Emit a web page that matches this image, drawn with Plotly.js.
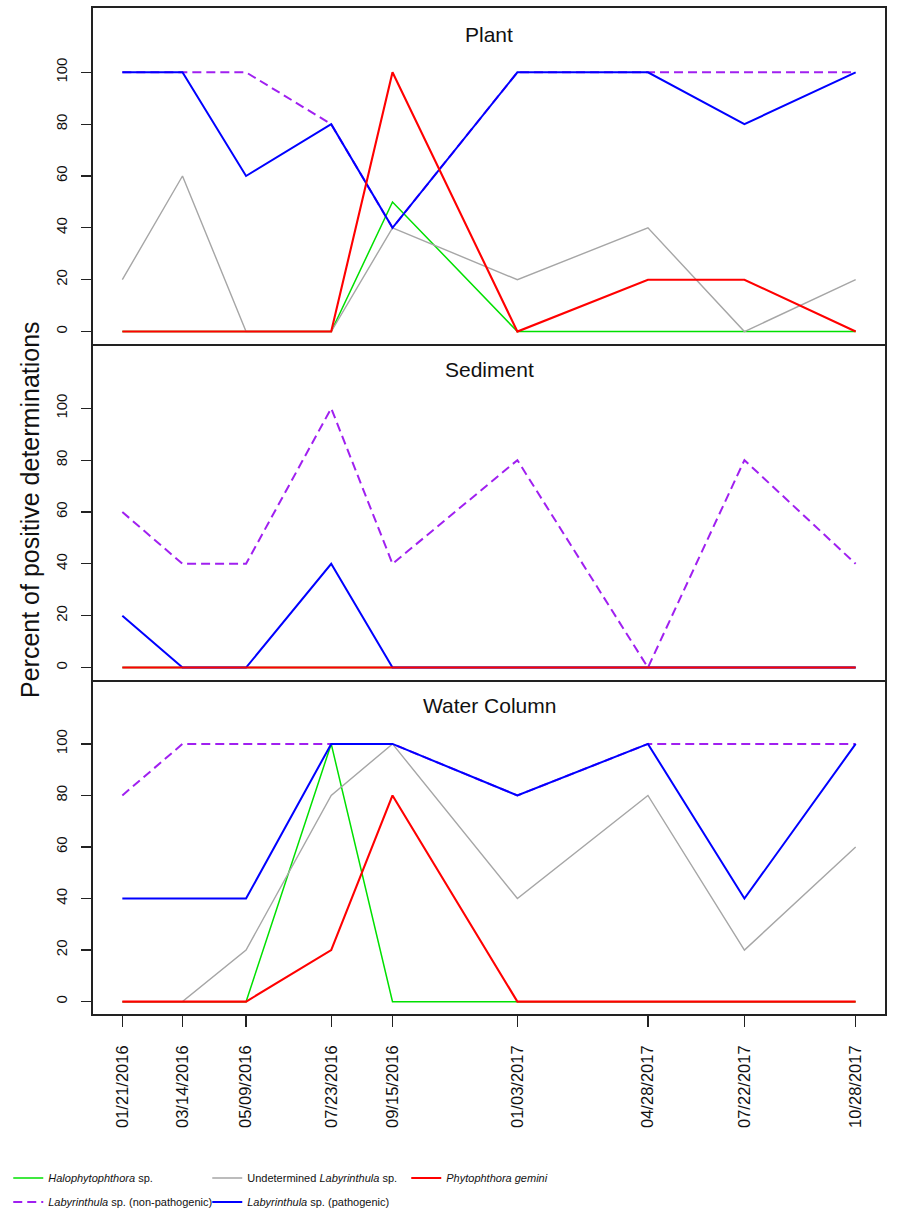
<!DOCTYPE html>
<html>
<head>
<meta charset="utf-8">
<script src="https://cdn.plot.ly/plotly-3.0.1.min.js"></script>
<style>html,body{margin:0;padding:0;background:#fff;}#chart{width:914px;height:1209px;}</style>
</head>
<body>
<div id="chart"></div>
<script>
// Sampling dates and their tick labels
const dates = ['2016-01-21','2016-03-14','2016-05-09','2016-07-23','2016-09-15','2017-01-03','2017-04-28','2017-07-22','2017-10-28'];
const tickLabels = ['01/21/2016','03/14/2016','05/09/2016','07/23/2016','09/15/2016','01/03/2017','04/28/2017','07/22/2017','10/28/2017'];

// Series names
const seriesNames = [
  '<i>Halophytophthora</i> sp.',
  '<i>Labyrinthula</i> sp. (non-pathogenic)',
  'Undetermined <i>Labyrinthula</i> sp.',
  '<i>Labyrinthula</i> sp. (pathogenic)',
  '<i>Phytophthora gemini</i>'
];
const panelTitles = ['Plant', 'Sediment', 'Water Column'];

// Plant
const plantHalo      = [0, 0, 0, 0, 50, 0, 0, 0, 0];
const plantNonPath   = [100, 100, 100, 80, 40, 100, 100, 100, 100];
const plantUndet     = [20, 60, 0, 0, 40, 20, 40, 0, 20];
const plantPath      = [100, 100, 60, 80, 40, 100, 100, 80, 100];
const plantGemini    = [0, 0, 0, 0, 100, 0, 20, 20, 0];

// Sediment
const sedHalo        = [0, 0, 0, 0, 0, 0, 0, 0, 0];
const sedNonPath     = [60, 40, 40, 100, 40, 80, 0, 80, 40];
const sedUndet       = [0, 0, 0, 0, 0, 0, 0, 0, 0];
const sedPath        = [20, 0, 0, 40, 0, 0, 0, 0, 0];
const sedGemini      = [0, 0, 0, 0, 0, 0, 0, 0, 0];

// Water Column
const waterHalo      = [0, 0, 0, 100, 0, 0, 0, 0, 0];
const waterNonPath   = [80, 100, 100, 100, 100, 80, 100, 100, 100];
const waterUndet     = [0, 0, 20, 80, 100, 40, 80, 20, 60];
const waterPath      = [40, 40, 40, 100, 100, 80, 100, 40, 100];
const waterGemini    = [0, 0, 0, 20, 80, 0, 0, 0, 0];

const yTickVals = [0, 20, 40, 60, 80, 100];

// Styles
const styles = [
  {color: '#00e000', width: 1.5, dash: 'solid', legend: 'legend'},
  {color: '#a020f0', width: 2, dash: '9px,5px', legend: 'legend2'},
  {color: '#a6a6a6', width: 1.4, dash: 'solid', legend: 'legend'},
  {color: '#0000ff', width: 2, dash: 'solid', legend: 'legend2'},
  {color: '#ff0000', width: 2.1, dash: 'solid', legend: 'legend'}
];

const panels = [
  {x: 'x3', y: 'y',  data: [plantHalo, plantNonPath, plantUndet, plantPath, plantGemini]},
  {x: 'x2', y: 'y2', data: [sedHalo, sedNonPath, sedUndet, sedPath, sedGemini]},
  {x: 'x',  y: 'y3', data: [waterHalo, waterNonPath, waterUndet, waterPath, waterGemini]}
];

const traces = [];
panels.forEach((p, pi) => {
  p.data.forEach((vals, si) => {
    const s = styles[si];
    traces.push({
      type: 'scatter', mode: 'lines',
      x: dates, y: vals,
      xaxis: p.x, yaxis: p.y,
      name: seriesNames[si],
      legendgroup: 's' + si,
      legend: s.legend,
      showlegend: pi === 0,
      line: {color: s.color, width: s.width, dash: s.dash},
      hoverinfo: 'skip'
    });
  });
});

const FONT = 'Liberation Sans, Arial, sans-serif';
const xRange = ['2015-12-26 04:00', '2017-11-22 20:00'];
const lineCol = '#222';
const LW = 1.8;

function yAxis(domain, anchor) {
  return {
    domain: domain, anchor: anchor,
    range: [-4.8, 124.8],
    tickvals: yTickVals,
    ticktext: yTickVals.map(String),
    ticks: 'outside', ticklen: 10, tickwidth: 1.2, tickcolor: lineCol,
    tickangle: -90,
    ticklabelstandoff: 8,
    tickfont: {family: FONT, size: 15, color: '#111'},
    showline: true, mirror: true, linecolor: lineCol, linewidth: LW,
    showgrid: false, zeroline: false, fixedrange: true
  };
}
function xAxis(anchor, showTicks, mirror) {
  return {
    anchor: anchor, matches: anchor === 'y3' ? undefined : 'x',
    type: 'date', range: xRange,
    tickvals: dates, ticktext: tickLabels,
    ticks: showTicks ? 'outside' : '', ticklen: 11, tickwidth: 1.2, tickcolor: lineCol,
    showticklabels: showTicks,
    tickangle: -90,
    ticklabelstandoff: 12,
    tickfont: {family: FONT, size: 16.5, color: '#111'},
    showline: true, mirror: mirror, linecolor: lineCol, linewidth: LW,
    showgrid: false, zeroline: false, fixedrange: true
  };
}

const H = 1006;
const legendCommon = {
  orientation: 'h', x: -0.107, xanchor: 'left', yanchor: 'middle',
  font: {family: FONT, size: 11, color: '#111'},
  entrywidth: 154, entrywidthmode: 'pixels', itemwidth: 30,
  bgcolor: 'rgba(0,0,0,0)', borderwidth: 0, itemclick: false, itemdoubleclick: false
};
const layout = {
  width: 914, height: 1209,
  margin: {l: 93, r: 29, t: 8, b: 195, autoexpand: false},
  paper_bgcolor: '#fff', plot_bgcolor: '#fff',
  font: {family: FONT, color: '#111'},
  showlegend: true,
  xaxis:  xAxis('y3', true, false),
  xaxis2: xAxis('y2', false, false),
  xaxis3: xAxis('y', false, true),
  yaxis:  yAxis([670 / H, 1], 'x3'),
  yaxis2: yAxis([334 / H, 670 / H], 'x2'),
  yaxis3: yAxis([0, 334 / H], 'x'),
  legend: Object.assign({}, legendCommon, {y: (1014 - 1178) / H}),
  legend2: Object.assign({}, legendCommon, {y: (1014 - 1202) / H}),
  annotations: [
    {text: panelTitles[0], xref: 'paper', yref: 'paper', x: 0.5, y: (1014 - 34) / H, xanchor: 'center', yanchor: 'middle', showarrow: false, font: {family: FONT, size: 21, color: '#111'}},
    {text: panelTitles[1], xref: 'paper', yref: 'paper', x: 0.5, y: (1014 - 369) / H, xanchor: 'center', yanchor: 'middle', showarrow: false, font: {family: FONT, size: 21, color: '#111'}},
    {text: panelTitles[2], xref: 'paper', yref: 'paper', x: 0.5, y: (1014 - 705) / H, xanchor: 'center', yanchor: 'middle', showarrow: false, font: {family: FONT, size: 21, color: '#111'}},
    {text: 'Percent of positive determinations', xref: 'paper', yref: 'paper', x: (30 - 93) / 792, y: (1014 - 510) / H, xanchor: 'center', yanchor: 'middle', textangle: -90, showarrow: false, font: {family: FONT, size: 25, color: '#111'}}
  ]
};

Plotly.newPlot('chart', traces, layout, {displayModeBar: false, staticPlot: true});
</script>
</body>
</html>
